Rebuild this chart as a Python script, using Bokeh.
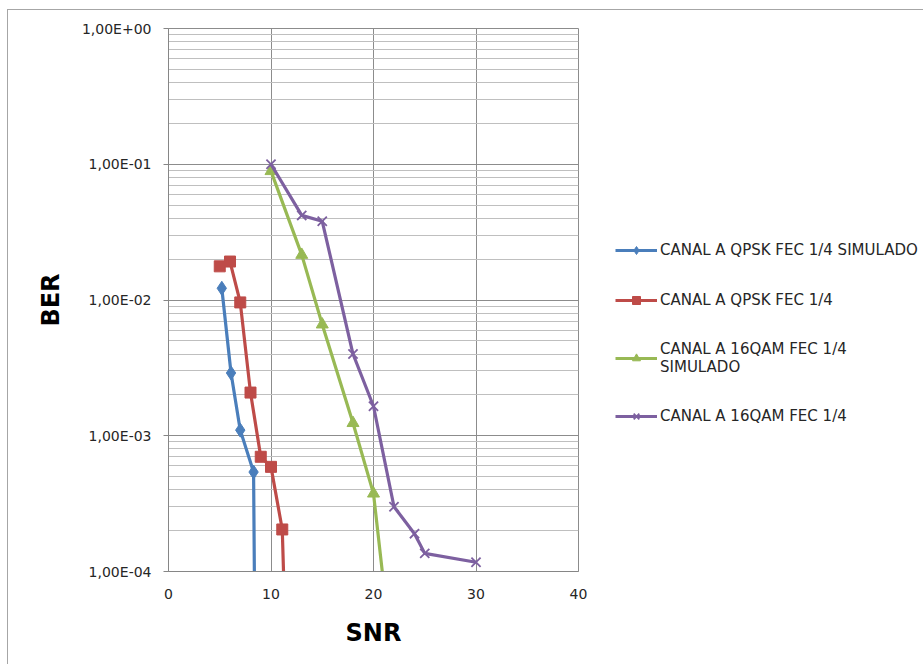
from bokeh.plotting import figure
from bokeh.models import FixedTicker, CustomJSTickFormatter, Legend, LegendItem, Range1d
from bokeh.embed import file_html
from bokeh.resources import INLINE

# ---- data ----
snr_qpsk_sim = [5.2, 6.1, 7.0, 8.3, 9.0]
ber_qpsk_sim = [1.22e-2, 2.9e-3, 1.1e-3, 5.4e-4, 1e-10]

snr_qpsk = [5, 6, 7, 8, 9, 10, 11.1, 12]
ber_qpsk = [1.77e-2, 1.92e-2, 9.6e-3, 2.08e-3, 7.0e-4, 5.9e-4, 2.04e-4, 1e-6]

snr_16qam_sim = [10, 13, 15, 18, 20, 21]
ber_16qam_sim = [8.9e-2, 2.15e-2, 6.6e-3, 1.24e-3, 3.75e-4, 8e-5]

snr_16qam = [10, 13, 15, 18, 20, 22, 24, 25, 30]
ber_16qam = [1.0e-1, 4.2e-2, 3.8e-2, 4.0e-3, 1.65e-3, 3.0e-4, 1.9e-4, 1.36e-4, 1.17e-4]

series_names = ["CANAL A QPSK FEC 1/4 SIMULADO", "CANAL A QPSK FEC 1/4",
                "CANAL A 16QAM FEC 1/4\nSIMULADO", "CANAL A 16QAM FEC 1/4"]
series_colors = ["#4A7EBB", "#BE4B48", "#98B954", "#7D60A0"]

x_ticks = [0, 10, 20, 30, 40]
y_ticks = [1e-4, 1e-3, 1e-2, 1e-1, 1e0]
y_tick_labels = ["1,00E-04", "1,00E-03", "1,00E-02", "1,00E-01", "1,00E+00"]
y_minor = [m * d for d in [1e-4, 1e-3, 1e-2, 1e-1] for m in range(2, 10)]

FONT = "DejaVu Sans"

p = figure(frame_width=410, frame_height=543, y_axis_type="log",
           x_range=Range1d(0, 40), y_range=Range1d(1e-4, 1),
           output_backend="svg", toolbar_location=None,
           min_border_left=160, min_border_top=18, min_border_bottom=93, min_border_right=345)
p.styles = {"margin-left": "7px", "margin-top": "9px",
            "border-left": "1px solid #a6a6a6", "border-top": "1px solid #a6a6a6"}

p.outline_line_color = "#8c8c8c"
p.background_fill_color = "white"

# axes
p.xaxis.ticker = FixedTicker(ticks=x_ticks)
p.yaxis.ticker = FixedTicker(ticks=y_ticks, minor_ticks=y_minor)
p.yaxis.formatter = CustomJSTickFormatter(args=dict(tvals=y_ticks, tlabels=y_tick_labels), code="""
for (let i = 0; i < tvals.length; i++) {
  if (Math.abs(Math.log10(tick) - Math.log10(tvals[i])) < 1e-6) return tlabels[i];
}
return "";
""")
for ax in (p.xaxis, p.yaxis):
    ax.axis_line_color = "#868686"
    ax.major_label_text_font = FONT
    ax.major_label_text_font_size = "14px"
    ax.major_label_text_color = "#262626"
    ax.axis_label_text_font = FONT
    ax.axis_label_text_font_style = "bold"
    ax.axis_label_text_font_size = "24px"
    ax.axis_label_text_color = "black"
    ax.minor_tick_line_color = None
p.xaxis.major_tick_line_color = None
p.xaxis.major_label_standoff = 11
p.xaxis.axis_label = "SNR"
p.xaxis.axis_label_standoff = 17
p.yaxis.major_tick_line_color = "#868686"
p.yaxis.major_tick_out = 5
p.yaxis.major_tick_in = 0
p.yaxis.major_label_standoff = 12
p.yaxis.axis_label = "BER"
p.yaxis.axis_label_standoff = 14

p.xgrid.grid_line_color = "#8c8c8c"
p.ygrid.grid_line_color = "#8c8c8c"
p.ygrid.minor_grid_line_color = "#bfbfbf"

# series
lw = 3.2
items = []
r1 = p.line(snr_qpsk_sim, ber_qpsk_sim, color=series_colors[0], line_width=lw)
m1 = p.scatter(snr_qpsk_sim[:-1], ber_qpsk_sim[:-1], marker="diamond", size=14, color=series_colors[0])
items.append(LegendItem(label=series_names[0], renderers=[r1, m1]))

r2 = p.line(snr_qpsk, ber_qpsk, color=series_colors[1], line_width=lw)
m2 = p.scatter(snr_qpsk[:-1], ber_qpsk[:-1], marker="square", size=11, color=series_colors[1])
items.append(LegendItem(label=series_names[1], renderers=[r2, m2]))

r3 = p.line(snr_16qam_sim, ber_16qam_sim, color=series_colors[2], line_width=lw)
m3 = p.scatter(snr_16qam_sim[:-1], ber_16qam_sim[:-1], marker="triangle", size=12, color=series_colors[2])
items.append(LegendItem(label=series_names[2], renderers=[r3, m3]))

r4 = p.line(snr_16qam, ber_16qam, color=series_colors[3], line_width=lw)
m4 = p.scatter(snr_16qam, ber_16qam, marker="x", size=13, line_color=series_colors[3], line_width=1.8)
items.append(LegendItem(label=series_names[3], renderers=[r4, m4]))

legend = Legend(items=items, location=(37, 145), glyph_width=42, glyph_height=20,
                label_height=20, label_standoff=3, spacing=30, padding=0, margin=0,
                border_line_color=None, background_fill_alpha=0,
                label_text_font=FONT, label_text_font_size="15px", label_text_color="#262626",
                label_text_line_height=1.5)
p.add_layout(legend, "right")

open("out.html", "w").write(file_html(p, INLINE))
